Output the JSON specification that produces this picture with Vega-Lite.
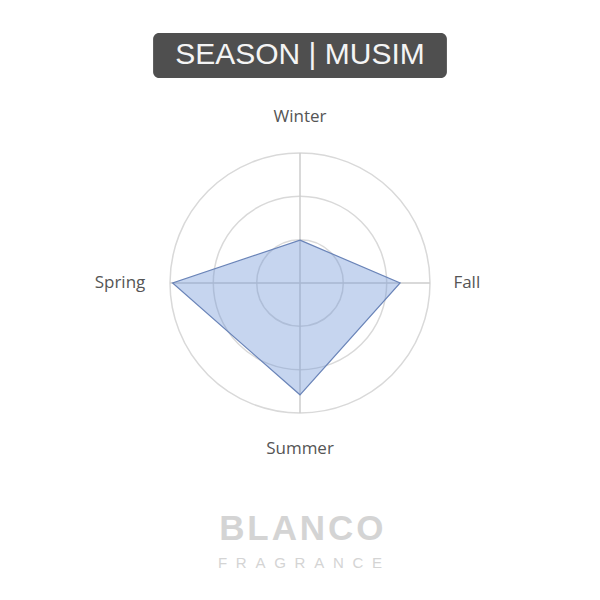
{
  "$schema": "https://vega.github.io/schema/vega-lite/v6.json",
  "width": 600,
  "height": 600,
  "autosize": {"type": "fit", "contains": "padding"},
  "padding": 0,
  "background": "white",
  "config": {"view": {"stroke": null}},
  "datasets": {
    "seasons": [
      {"season": "Winter", "idx": 0, "value": 33},
      {"season": "Fall", "idx": 1, "value": 77},
      {"season": "Summer", "idx": 2, "value": 86},
      {"season": "Spring", "idx": 3, "value": 98}
    ],
    "rings": [
      {"ring": 33.3},
      {"ring": 66.7},
      {"ring": 100}
    ],
    "heading": [{"label": "SEASON | MUSIM"}],
    "brand": [{"name": "B\u200aL\u200aA\u200aN\u200aC\u200aO", "sub": "F\u2002\u200aR\u2002\u200aA\u2002\u200aG\u2002\u200aR\u2002\u200aA\u2002\u200aN\u2002\u200aC\u2002\u200aE"}]
  },
  "layer": [
    {
      "data": {"name": "rings"},
      "transform": [{"calculate": "0", "as": "cx"}],
      "mark": {"type": "point", "shape": "circle", "filled": false, "stroke": "#d9d9d9", "strokeWidth": 1.5, "opacity": 1},
      "encoding": {
        "x": {"field": "cx", "type": "quantitative", "scale": {"domain": [-230.77, 230.77], "nice": false, "zero": false}, "axis": null},
        "y": {"field": "cx", "type": "quantitative", "scale": {"domain": [-243.85, 217.69], "nice": false, "zero": false}, "axis": null},
        "size": {"field": "ring", "type": "quantitative", "scale": {"type": "pow", "exponent": 2, "domain": [0, 100], "range": [0, 67600], "zero": true}, "legend": null}
      }
    },
    {
      "data": {"name": "seasons"},
      "transform": [
        {"calculate": "datum.idx * PI / 2", "as": "a"},
        {"calculate": "0", "as": "cx"},
        {"calculate": "100 * sin(datum.a)", "as": "ex"},
        {"calculate": "100 * cos(datum.a)", "as": "ey"}
      ],
      "mark": {"type": "rule", "stroke": "#cccccc", "strokeWidth": 1.5},
      "encoding": {
        "x": {"field": "cx", "type": "quantitative"},
        "y": {"field": "cx", "type": "quantitative"},
        "x2": {"field": "ex"},
        "y2": {"field": "ey"}
      }
    },
    {
      "data": {"name": "seasons"},
      "transform": [
        {"calculate": "datum.idx * PI / 2", "as": "a"},
        {"calculate": "datum.value * sin(datum.a)", "as": "px"},
        {"calculate": "datum.value * cos(datum.a)", "as": "py"}
      ],
      "mark": {"type": "line", "interpolate": "linear-closed", "fill": "#7096d8", "fillOpacity": 0.4, "stroke": "#6a84b8", "strokeWidth": 1.2},
      "encoding": {
        "x": {"field": "px", "type": "quantitative"},
        "y": {"field": "py", "type": "quantitative"},
        "order": {"field": "idx", "type": "quantitative"}
      }
    },
    {
      "data": {"name": "seasons"},
      "transform": [
        {"filter": "datum.idx == 0 || datum.idx == 2"},
        {"calculate": "datum.idx * PI / 2", "as": "a"},
        {"calculate": "0", "as": "lx"},
        {"calculate": "127.5 * cos(datum.a)", "as": "ly"}
      ],
      "mark": {"type": "text", "align": "center", "baseline": "middle", "font": "Open Sans", "fontSize": 17, "color": "#555555"},
      "encoding": {
        "x": {"field": "lx", "type": "quantitative"},
        "y": {"field": "ly", "type": "quantitative"},
        "text": {"field": "season"}
      }
    },
    {
      "data": {"name": "seasons"},
      "transform": [
        {"filter": "datum.idx == 1"},
        {"calculate": "118", "as": "lx"},
        {"calculate": "0", "as": "ly"}
      ],
      "mark": {"type": "text", "align": "left", "baseline": "middle", "font": "Open Sans", "fontSize": 17, "color": "#555555"},
      "encoding": {
        "x": {"field": "lx", "type": "quantitative"},
        "y": {"field": "ly", "type": "quantitative"},
        "text": {"field": "season"}
      }
    },
    {
      "data": {"name": "seasons"},
      "transform": [
        {"filter": "datum.idx == 3"},
        {"calculate": "-119", "as": "lx"},
        {"calculate": "0", "as": "ly"}
      ],
      "mark": {"type": "text", "align": "right", "baseline": "middle", "font": "Open Sans", "fontSize": 17, "color": "#555555"},
      "encoding": {
        "x": {"field": "lx", "type": "quantitative"},
        "y": {"field": "ly", "type": "quantitative"},
        "text": {"field": "season"}
      }
    },
    {
      "data": {"name": "heading"},
      "mark": {"type": "rect", "fill": "#4f4f4f", "cornerRadius": 6},
      "encoding": {
        "x": {"datum": -113, "type": "quantitative"},
        "x2": {"datum": 113},
        "y": {"datum": 192.3, "type": "quantitative"},
        "y2": {"datum": 157.7}
      }
    },
    {
      "data": {"name": "heading"},
      "mark": {"type": "text", "align": "center", "baseline": "middle", "font": "Liberation Sans", "fontSize": 30, "color": "#f4f4f4"},
      "encoding": {
        "x": {"datum": 0, "type": "quantitative"},
        "y": {"datum": 175, "type": "quantitative"},
        "text": {"field": "label"}
      }
    },
    {
      "data": {"name": "brand"},
      "mark": {"type": "text", "align": "center", "baseline": "middle", "font": "Liberation Sans", "fontWeight": "bold", "fontSize": 35, "color": "#d4d4d4"},
      "encoding": {
        "x": {"datum": 1, "type": "quantitative"},
        "y": {"datum": -189.2, "type": "quantitative"},
        "text": {"field": "name"}
      }
    },
    {
      "data": {"name": "brand"},
      "mark": {"type": "text", "align": "center", "baseline": "middle", "font": "Liberation Sans", "fontSize": 15, "color": "#d4d4d4"},
      "encoding": {
        "x": {"datum": 0, "type": "quantitative"},
        "y": {"datum": -215.4, "type": "quantitative"},
        "text": {"field": "sub"}
      }
    }
  ]
}
